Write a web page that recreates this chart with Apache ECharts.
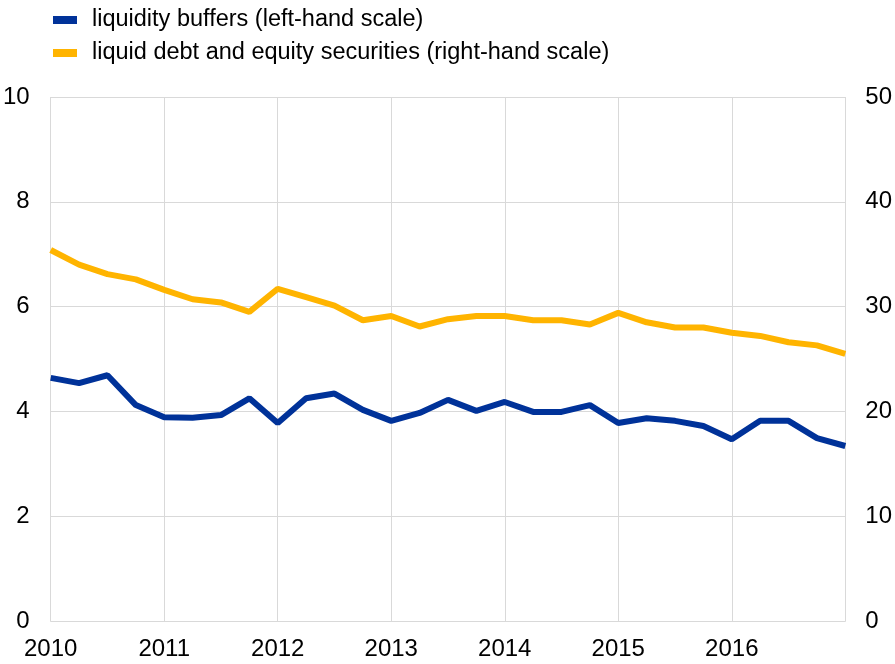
<!DOCTYPE html>
<html>
<head>
<meta charset="utf-8">
<script src="https://cdn.jsdelivr.net/npm/echarts@6/dist/echarts.min.js"></script>
<style>
  html, body { margin: 0; padding: 0; background: #fff; }
  #chart { width: 895px; height: 664px; }
</style>
</head>
<body>
<div id="chart"></div>
<script>
// quarterly observations, 2010 Q1 to 2017 Q1
const quarters = [];
for (let y = 2010; y <= 2017; y++) {
  for (let q = 1; q <= 4; q++) {
    if (y === 2017 && q > 1) break;
    quarters.push(y + " Q" + q);
  }
}

// liquidity buffers (left-hand scale)
const liquidityBuffers = [
  4.64, 4.54, 4.69, 4.12, 3.89, 3.88, 3.93, 4.25, 3.78, 4.25,
  4.34, 4.03, 3.82, 3.97, 4.22, 4.01, 4.18, 3.99, 3.99, 4.12,
  3.78, 3.87, 3.82, 3.72, 3.47, 3.82, 3.82, 3.49, 3.34
];

// liquid debt and equity securities (right-hand scale)
const liquidSecurities = [
  35.4, 34.0, 33.1, 32.6, 31.6, 30.7, 30.4, 29.5, 31.7, 30.9,
  30.1, 28.7, 29.1, 28.1, 28.8, 29.1, 29.1, 28.7, 28.7, 28.3,
  29.4, 28.5, 28.0, 28.0, 27.5, 27.2, 26.6, 26.3, 25.5
];

const seriesNames = [
  "liquidity buffers (left-hand scale)",
  "liquid debt and equity securities (right-hand scale)"
];

const blue = "#003299";
const yellow = "#ffb400";
const gridColor = "#d9d9d9";
const font = "Liberation Sans, Arial, sans-serif";

const chart = echarts.init(document.getElementById("chart"));

chart.setOption({
  animation: false,
  textStyle: { fontFamily: font },
  legend: {
    orient: "vertical",
    left: 48,
    top: 3,
    itemWidth: 24,
    itemHeight: 8,
    itemGap: 9,
    icon: "rect",
    textStyle: { fontSize: 23.5, lineHeight: 24, color: "#000", padding: [0, 0, 0, 10] },
    data: seriesNames
  },
  grid: { left: 50, right: 47, top: 97, bottom: 43 },
  xAxis: {
    type: "category",
    data: quarters,
    boundaryGap: false,
    axisLine: { show: true, lineStyle: { color: gridColor } },
    axisTick: { show: false },
    axisLabel: {
      interval: (i) => i % 4 === 0 && i < 28,
      formatter: (v) => v.slice(0, 4),
      fontSize: 24,
      color: "#000",
      margin: 16
    },
    splitLine: {
      show: true,
      interval: (i) => i % 4 === 0,
      lineStyle: { color: gridColor }
    }
  },
  yAxis: [
    {
      type: "value",
      min: 0,
      max: 10,
      interval: 2,
      axisLine: { show: false },
      axisTick: { show: false },
      axisLabel: { fontSize: 24, color: "#000", margin: 21 },
      splitLine: { lineStyle: { color: gridColor } }
    },
    {
      type: "value",
      min: 0,
      max: 50,
      interval: 10,
      axisLine: { show: false },
      axisTick: { show: false },
      axisLabel: { fontSize: 24, color: "#000", margin: 20 },
      splitLine: { show: false }
    }
  ],
  series: [
    {
      name: seriesNames[0],
      type: "line",
      yAxisIndex: 0,
      data: liquidityBuffers,
      symbol: "none",
      lineStyle: { width: 6, color: blue },
      itemStyle: { color: blue }
    },
    {
      name: seriesNames[1],
      type: "line",
      yAxisIndex: 1,
      data: liquidSecurities,
      symbol: "none",
      lineStyle: { width: 6, color: yellow },
      itemStyle: { color: yellow }
    }
  ]
});
</script>
</body>
</html>
